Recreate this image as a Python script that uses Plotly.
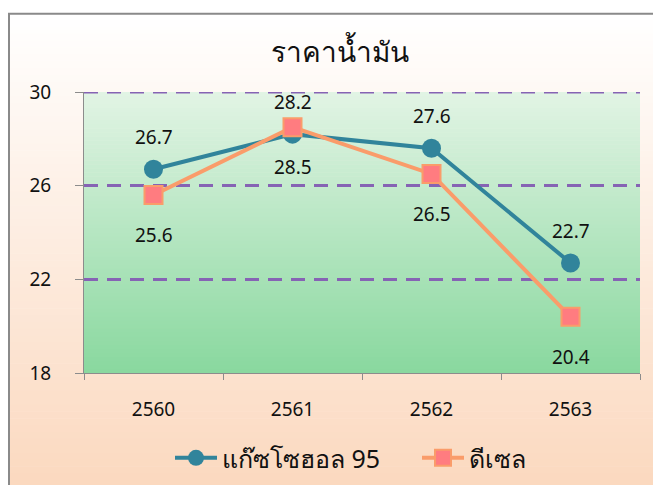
import plotly.graph_objects as go

years = ["2560", "2561", "2562", "2563"]
gasohol95 = [26.7, 28.2, 27.6, 22.7]
diesel = [25.6, 28.5, 26.5, 20.4]
y_ticks = [18, 22, 26, 30]

# page is drawn with an 8px body margin, so figure coords = page coords - 8
W, H = 661, 485
L, R, T, B = 76, 29, 84, 117
pw, ph = W - L - R, H - T - B
GRID = "#8663B4"


def px_x(p):
    return (p - L) / pw


def px_y(p):
    return (H - B - p) / ph


def lerp(c1, c2, t):
    return "rgb(%d,%d,%d)" % tuple(round(a + (b - a) * t) for a, b in zip(c1, c2))


shapes = []
n = 70
top_px, bot_px = 4, 490
for i in range(n):
    y0 = top_px + (bot_px - top_px) * i / n
    y1 = top_px + (bot_px - top_px) * (i + 1) / n
    shapes.append(dict(type="rect", xref="paper", yref="paper", layer="below",
                       x0=px_x(0), x1=px_x(700), y0=px_y(y0), y1=px_y(y1 + 0.6),
                       fillcolor=lerp((255, 255, 255), (251, 216, 190), (i + 0.5) / n),
                       line=dict(width=0)))
for i in range(n):
    shapes.append(dict(type="rect", xref="paper", yref="paper", layer="below",
                       x0=0, x1=1, y0=1 - i / n, y1=1 - (i + 1) / n - 0.002,
                       fillcolor=lerp((226, 244, 229), (137, 216, 158), (i + 0.5) / n),
                       line=dict(width=0)))
# top gridline (plotly omits the gridline at the range edge)
shapes.append(dict(type="line", xref="paper", yref="y", layer="below",
                   x0=0, x1=1, y0=max(y_ticks), y1=max(y_ticks),
                   line=dict(color=GRID, width=3, dash="14px,9px")))
shapes.append(dict(type="rect", xref="paper", yref="paper", layer="above",
                   x0=px_x(1), x1=px_x(700), y0=px_y(5), y1=px_y(520),
                   fillcolor="rgba(0,0,0,0)", line=dict(color="#8a8a8a", width=2)))

fig = go.Figure()
fig.add_trace(go.Scatter(
    x=years, y=gasohol95, name="แก๊ซโซฮอล 95", mode="lines+markers",
    line=dict(color="#31849B", width=4),
    marker=dict(symbol="circle", size=19, color="#31849B"),
    legend="legend",
))
fig.add_trace(go.Scatter(
    x=years, y=diesel, name="ดีเซล", mode="lines+markers",
    line=dict(color="#FA9C6A", width=4),
    marker=dict(symbol="square", size=18, color="#FF7C80",
                line=dict(color="#FA9C6A", width=2)),
    legend="legend2",
))

font = "Tahoma, Noto Sans, DejaVu Sans, sans-serif"
annotations = []
for i, v in enumerate(gasohol95):
    annotations.append(dict(x=i, y=v, text=f"{v:.1f}", showarrow=False, yshift=32,
                            font=dict(size=19, color="#111111")))
for i, v in enumerate(diesel):
    annotations.append(dict(x=i, y=v, text=f"{v:.1f}", showarrow=False, yshift=-40,
                            font=dict(size=19, color="#111111")))

leg_common = dict(orientation="h", xanchor="left", y=px_y(454), yanchor="middle",
                  font=dict(size=25, color="#111111"), bgcolor="rgba(0,0,0,0)",
                  itemwidth=42)

fig.update_layout(
    width=W, height=H,
    margin=dict(l=L, r=R, t=T, b=B, pad=0),
    paper_bgcolor="white", plot_bgcolor="rgba(0,0,0,0)",
    font=dict(family=font, color="#111111"),
    title=dict(text="ราคาน้ำมัน", x=332 / W, xanchor="center",
               y=1 - 44 / H, yanchor="middle", font=dict(size=28, color="#111111")),
    shapes=shapes, annotations=annotations,
    showlegend=True,
    legend=dict(x=px_x(162), **leg_common),
    legend2=dict(x=px_x(409), **leg_common),
    xaxis=dict(type="category", range=[-0.5, 3.5], showgrid=False, showline=True,
               linecolor="#8c8c8c", linewidth=1,
               ticks="outside", tickson="boundaries", ticklen=6, tickcolor="#8c8c8c",
               tickfont=dict(size=19), ticklabelstandoff=19, tickangle=0, fixedrange=True),
    yaxis=dict(range=[18, 30], tickvals=y_ticks, showgrid=True, gridcolor=GRID,
               griddash="14px,9px", gridwidth=3, zeroline=False,
               showline=True, linecolor="#8c8c8c", linewidth=1,
               ticks="outside", ticklen=8, tickcolor="#8c8c8c",
               tickfont=dict(size=19), ticklabelstandoff=20),
)

fig.write_html("out.html")
